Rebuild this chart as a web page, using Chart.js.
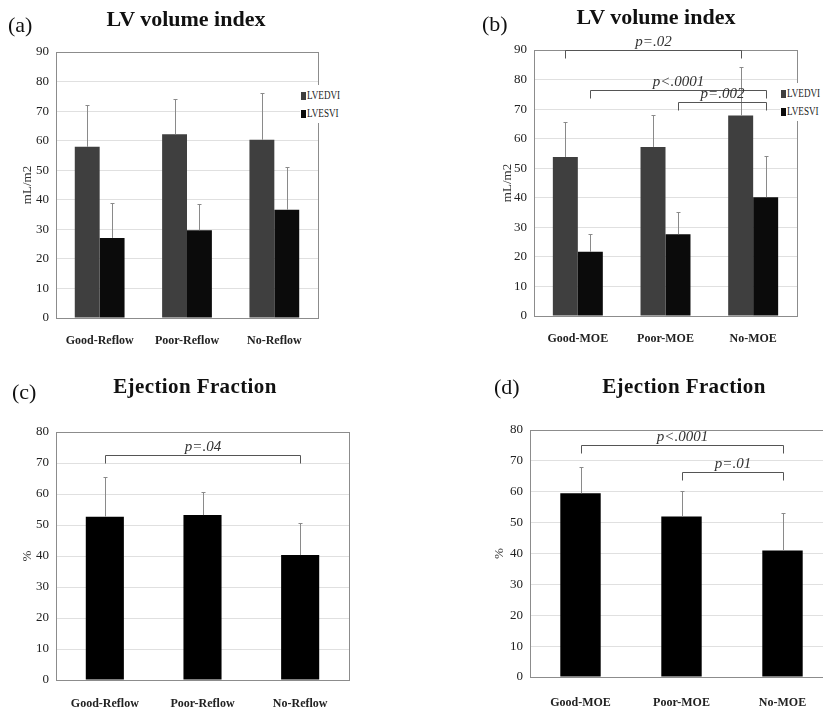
<!DOCTYPE html>
<html lang="en">
<head>
<meta charset="utf-8">
<title>LV volume index / Ejection Fraction</title>
<script src="https://cdn.jsdelivr.net/npm/chart.js@4.4.1/dist/chart.umd.min.js"></script>
<style>
  html, body { margin: 0; padding: 0; background: #fff; }
  body { width: 823px; height: 713px; position: relative; overflow: hidden; font-family: "Liberation Serif", "Times New Roman", serif; color: #111; }
  canvas { position: absolute; }
  .letra { position: absolute; font-size: 22px; line-height: 1; }
  .titulo { position: absolute; font-size: 22px; font-weight: bold; line-height: 1; transform: translateX(-50%); white-space: nowrap; }
  .titulo.fe { font-size: 21px; letter-spacing: 0.4px; }
  .leyenda { position: absolute; background: #fff; padding: 1px 2px 1px 1px; font-size: 12px; line-height: 18px; color: #222; width: 38px; }
  .leyenda div { white-space: nowrap; }
  .leyenda .cuadro { display: inline-block; width: 5px; height: 8px; margin-right: 1px; vertical-align: -1px; }
  .leyenda .txt { display: inline-block; transform: scaleX(0.76); transform-origin: left center; }
</style>
</head>
<body>

<canvas id="graficaA" width="360" height="350" style="left:0;top:0"></canvas>
<canvas id="graficaB" width="411" height="350" style="left:412px;top:0"></canvas>
<canvas id="graficaC" width="412" height="363" style="left:0;top:350px"></canvas>
<canvas id="graficaD" width="440" height="363" style="left:412px;top:350px"></canvas>

<div class="letra" style="left:8px;top:14px">(a)</div>
<div class="titulo" style="left:186px;top:8px">LV volume index</div>
<div class="letra" style="left:482px;top:13px">(b)</div>
<div class="titulo" style="left:656px;top:6px">LV volume index</div>
<div class="letra" style="left:12px;top:381px">(c)</div>
<div class="titulo fe" style="left:195px;top:376px">Ejection Fraction</div>
<div class="letra" style="left:494px;top:376px">(d)</div>
<div class="titulo fe" style="left:684px;top:376px">Ejection Fraction</div>

<div class="leyenda" id="leyendaA" style="left:300px;top:85px"></div>
<div class="leyenda" id="leyendaB" style="left:780px;top:83px"></div>

<script>
const FUENTE = '"Liberation Serif", "Times New Roman", serif';

const gruposReflow = ["Good-Reflow", "Poor-Reflow", "No-Reflow"];
const gruposMOE = ["Good-MOE", "Poor-MOE", "No-MOE"];

const ticksVolumen = [0, 10, 20, 30, 40, 50, 60, 70, 80, 90];
const ticksFE = [0, 10, 20, 30, 40, 50, 60, 70, 80];

const nombresVolumen = ["LVEDVI", "LVESVI"];
const coloresVolumen = ["#3f3f3f", "#0b0b0b"];

// (a) volumen por grupo de reflow: media y DE
const lvedviReflow = [57.9, 62.2, 60.3];
const lvedviReflowDE = [14.2, 12.0, 15.8];
const lvesviReflow = [27.1, 29.7, 36.6];
const lvesviReflowDE = [11.8, 8.8, 14.5];

// (b) volumen por grupo MOE
const lvedviMOE = [53.8, 57.2, 67.8];
const lvedviMOEDE = [11.8, 10.8, 16.4];
const lvesviMOE = [21.7, 27.7, 40.2];
const lvesviMOEDE = [6.0, 7.5, 13.9];

// (c) fracción de eyección por reflow
const feReflow = [52.7, 53.2, 40.3];
const feReflowDE = [12.8, 7.4, 10.3];

// (d) fracción de eyección por MOE
const feMOE = [59.5, 52.0, 41.0];
const feMOEDE = [8.5, 8.2, 12.1];

// comparaciones significativas (serie, grupo inicial, grupo final, altura en unidades del eje)
const pVolumenMOE = [
    { serie: 0, desde: 0, hasta: 2, y: 90, texto: "p=.02" },
    { serie: 1, desde: 0, hasta: 2, y: 76.5, texto: "p<.0001" },
    { serie: 1, desde: 1, hasta: 2, y: 72.4, texto: "p=.002" }
];
const pFEReflow = [
    { serie: 0, desde: 0, hasta: 2, y: 72.6, texto: "p=.04" }
];
const pFEMOE = [
    { serie: 0, desde: 0, hasta: 2, y: 75.1, texto: "p<.0001" },
    { serie: 0, desde: 1, hasta: 2, y: 66.4, texto: "p=.01" }
];

// marco gris alrededor del área de la gráfica
const marcoPlugin = {
    id: "marco",
    beforeDatasetsDraw(chart) {
        const { ctx, chartArea: a } = chart;
        ctx.save();
        ctx.strokeStyle = "#8c8c8c";
        ctx.lineWidth = 1;
        ctx.strokeRect(Math.round(a.left) + 0.5, Math.round(a.top) + 0.5,
            Math.round(a.right - a.left), Math.round(a.bottom - a.top));
        ctx.restore();
    }
};

// barras de error (solo hacia arriba)
const barrasErrorPlugin = {
    id: "barrasError",
    afterDatasetsDraw(chart) {
        const { ctx } = chart;
        const ejeY = chart.scales.y;
        ctx.save();
        ctx.strokeStyle = "#8a8a8a";
        ctx.lineWidth = 1;
        chart.data.datasets.forEach((ds, i) => {
            if (!ds.de) return;
            chart.getDatasetMeta(i).data.forEach((barra, j) => {
                const x = Math.round(barra.x) + 0.5;
                const arriba = Math.round(ejeY.getPixelForValue(ds.data[j] + ds.de[j])) + 0.5;
                ctx.beginPath();
                ctx.moveTo(x, barra.y);
                ctx.lineTo(x, arriba);
                ctx.moveTo(x - 2, arriba);
                ctx.lineTo(x + 2, arriba);
                ctx.stroke();
            });
        });
        ctx.restore();
    }
};

// corchetes con el valor p
function corchetes(items) {
    return {
        id: "corchetes",
        afterDraw(chart) {
            if (!items.length) return;
            const { ctx } = chart;
            const ejeY = chart.scales.y;
            ctx.save();
            ctx.strokeStyle = "#555";
            ctx.fillStyle = "#333";
            ctx.lineWidth = 1;
            ctx.font = "italic 15px " + FUENTE;
            ctx.textAlign = "center";
            ctx.textBaseline = "alphabetic";
            items.forEach(c => {
                const barras = chart.getDatasetMeta(c.serie).data;
                const x1 = Math.round(barras[c.desde].x) + 0.5;
                const x2 = Math.round(barras[c.hasta].x) + 0.5;
                const yy = Math.round(ejeY.getPixelForValue(c.y)) + 0.5;
                ctx.beginPath();
                ctx.moveTo(x1, yy + 8);
                ctx.lineTo(x1, yy);
                ctx.lineTo(x2, yy);
                ctx.lineTo(x2, yy + 8);
                ctx.stroke();
                ctx.fillText(c.texto, (x1 + x2) / 2, yy - 5);
            });
            ctx.restore();
        }
    };
}

function crearGraficaBarras(idCanvas, etiquetas, series, opciones) {
    const ctx = document.getElementById(idCanvas);

    if (!ctx) {
        console.warn("No se encontró el canvas:", idCanvas);
        return;
    }

    return new Chart(ctx, {
        type: "bar",
        data: {
            labels: etiquetas,
            datasets: series.map(s => ({
                label: s.nombre,
                data: s.datos,
                de: s.de,
                backgroundColor: s.color,
                borderWidth: 0,
                categoryPercentage: opciones.ancho,
                barPercentage: 1
            }))
        },
        options: {
            responsive: false,
            animation: false,
            layout: { padding: opciones.padding },
            plugins: {
                legend: { display: false },
                tooltip: { enabled: false }
            },
            scales: {
                x: {
                    afterFit: s => { s.height = opciones.altoEjeX; },
                    grid: { display: false, drawTicks: false },
                    border: { display: true, color: "#777" },
                    ticks: {
                        color: "#222",
                        font: { family: FUENTE, size: 12, weight: "bold" },
                        padding: opciones.margenX
                    }
                },
                y: {
                    min: 0,
                    max: opciones.ticks[opciones.ticks.length - 1],
                    afterBuildTicks: s => { s.ticks = opciones.ticks.map(v => ({ value: v })); },
                    afterFit: s => { s.width = 56; },
                    grid: { color: "#e0e0e0", drawTicks: false },
                    border: { display: true, color: "#888" },
                    ticks: {
                        color: "#222",
                        font: { family: FUENTE, size: 13 },
                        padding: 7
                    },
                    title: {
                        display: true,
                        text: opciones.tituloY,
                        color: "#333",
                        font: { family: FUENTE, size: 13 },
                        padding: { top: opciones.margenTitulo, bottom: 0 }
                    }
                }
            }
        },
        plugins: [marcoPlugin, barrasErrorPlugin, corchetes(opciones.comparaciones || [])]
    });
}

function crearLeyenda(idDiv, nombres, colores) {
    const div = document.getElementById(idDiv);
    div.innerHTML = nombres.map((n, i) =>
        `<div><span class="cuadro" style="background:${colores[i]}"></span><span class="txt">${n}</span></div>`
    ).join("");
}

document.addEventListener("DOMContentLoaded", () => {
    crearGraficaBarras("graficaA", gruposReflow, [
        { nombre: nombresVolumen[0], datos: lvedviReflow, de: lvedviReflowDE, color: coloresVolumen[0] },
        { nombre: nombresVolumen[1], datos: lvesviReflow, de: lvesviReflowDE, color: coloresVolumen[1] }
    ], {
        ancho: 0.57, ticks: ticksVolumen, tituloY: "mL/m2", margenTitulo: 20, margenX: 16,
        padding: { top: 52, left: 0, right: 42, bottom: 0 }, altoEjeX: 32
    });

    crearGraficaBarras("graficaB", gruposMOE, [
        { nombre: nombresVolumen[0], datos: lvedviMOE, de: lvedviMOEDE, color: coloresVolumen[0] },
        { nombre: nombresVolumen[1], datos: lvesviMOE, de: lvesviMOEDE, color: coloresVolumen[1] }
    ], {
        ancho: 0.57, ticks: ticksVolumen, tituloY: "mL/m2", margenTitulo: 22, margenX: 16,
        padding: { top: 50, left: 66, right: 26, bottom: 0 }, altoEjeX: 34,
        comparaciones: pVolumenMOE
    });

    crearGraficaBarras("graficaC", gruposReflow, [
        { nombre: "EF", datos: feReflow, de: feReflowDE, color: "#000" }
    ], {
        ancho: 0.39, ticks: ticksFE, tituloY: "%", margenTitulo: 20, margenX: 17,
        padding: { top: 82, left: 0, right: 63, bottom: 0 }, altoEjeX: 33,
        comparaciones: pFEReflow
    });

    crearGraficaBarras("graficaD", gruposMOE, [
        { nombre: "EF", datos: feMOE, de: feMOEDE, color: "#000" }
    ], {
        ancho: 0.40, ticks: ticksFE, tituloY: "%", margenTitulo: 18, margenX: 19,
        padding: { top: 80, left: 62, right: 19, bottom: 0 }, altoEjeX: 36,
        comparaciones: pFEMOE
    });

    crearLeyenda("leyendaA", nombresVolumen, coloresVolumen);
    crearLeyenda("leyendaB", nombresVolumen, coloresVolumen);
});
</script>
</body>
</html>
